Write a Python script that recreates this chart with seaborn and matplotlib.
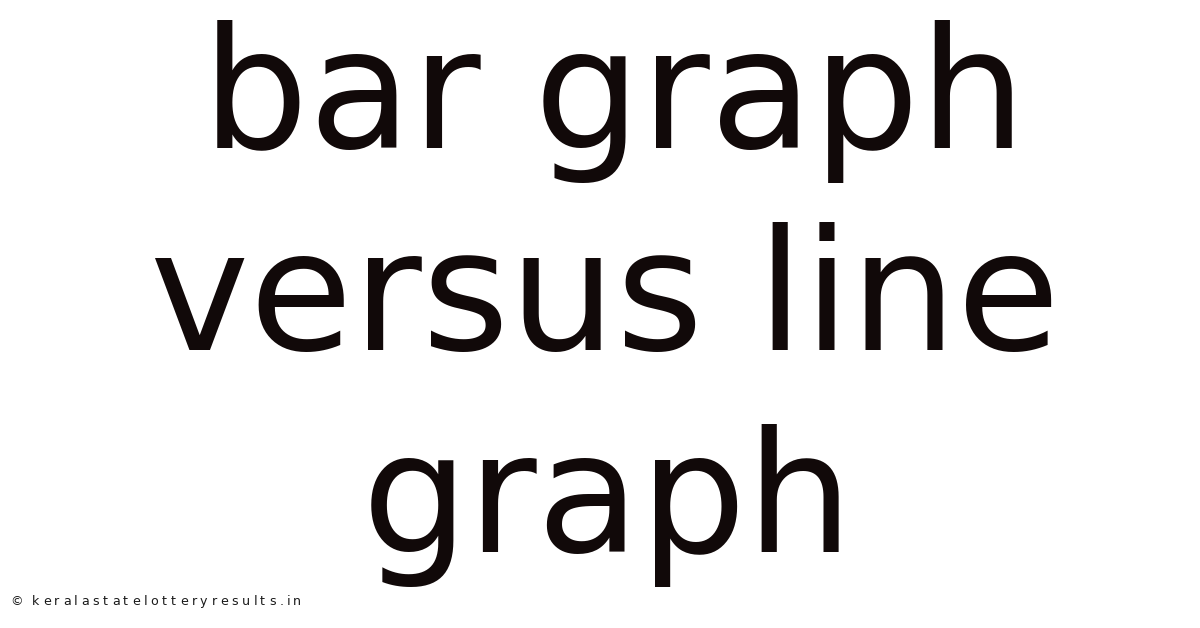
import matplotlib
matplotlib.use("Agg")
import matplotlib.pyplot as plt
import seaborn as sns
from matplotlib.textpath import TextPath
from matplotlib.font_manager import FontProperties

# text content of the card
title_lines = ["bar graph", "versus line", "graph"]
footer_text = "© keralastatelotteryresults.in"

W, H = 1200, 628
TEXT_COLOR = "#110909"

sns.set_theme(style="white")
plt.rcParams['font.family'] = ['DejaVu Sans']

fig = plt.figure(figsize=(W / 100, H / 100), dpi=100)
fig.patch.set_facecolor("white")


def px(x, y):
    # pixel coords (top-left origin) -> figure fraction
    return x / W, 1 - y / H


# big centred title, one line at a time
centers = [614, 605, 608]
baselines = [148, 350, 552]
for line, cx, by in zip(title_lines, centers, baselines):
    fx, fy = px(cx, by)
    fig.text(fx, fy, line, ha="center", va="baseline",
             fontsize=121, color=TEXT_COLOR)

# small letter-spaced footer, drawn char by char
fsize_px = 12.6
tracking = 2.85
prop = FontProperties(family="DejaVu Sans")
bar_w = TextPath((0, 0), "|", size=fsize_px, prop=prop).get_extents().width
x = 10
for ch in footer_text:
    fx, fy = px(x, 605)
    fig.text(fx, fy, ch, ha="left", va="baseline",
             fontsize=fsize_px * 72 / 100, color="#1a1a1a")
    if ch == " ":
        adv = fsize_px * 0.32
    else:
        adv = TextPath((0, 0), ch + "|", size=fsize_px, prop=prop).get_extents().width - bar_w
    x += adv + tracking

fig.savefig("out.png", dpi=100, facecolor="white")
